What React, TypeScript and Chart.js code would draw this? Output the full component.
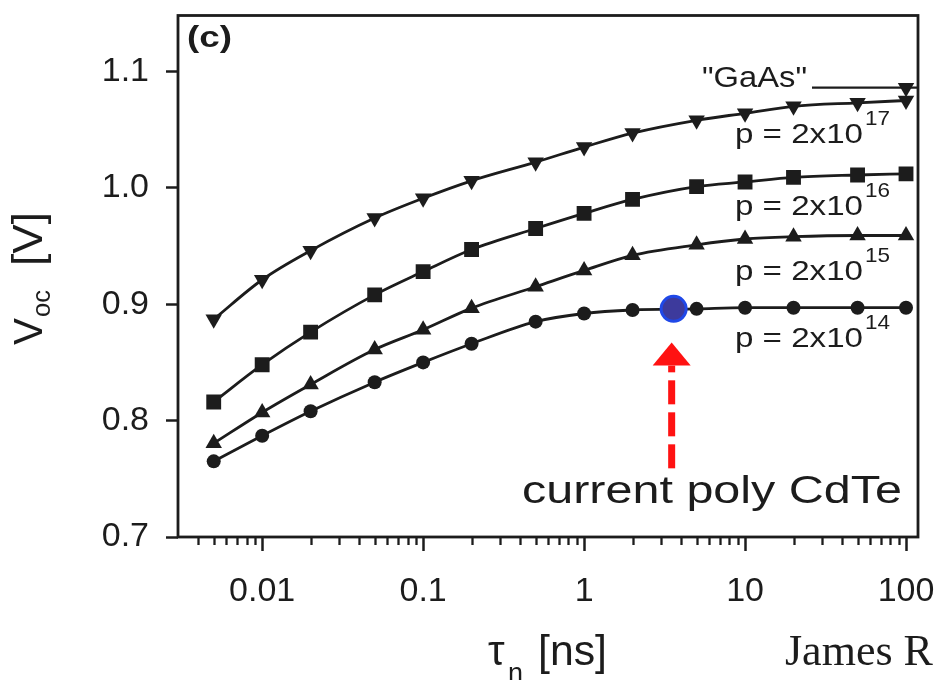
import React, { useEffect, useRef } from "react";
import { Chart, registerables } from "chart.js";

Chart.register(...registerables);

// ---------- data ----------
const TAU_NS = [0.005, 0.01, 0.02, 0.05, 0.1, 0.2, 0.5, 1, 2, 5, 10, 20, 50, 100];
const VOC_P2E17 = [0.887, 0.921, 0.946, 0.974, 0.991, 1.006, 1.022, 1.035, 1.047, 1.058, 1.064, 1.07, 1.073, 1.075];
const VOC_P2E16 = [0.816, 0.848, 0.876, 0.908, 0.928, 0.947, 0.965, 0.978, 0.99, 1.001, 1.005, 1.009, 1.011, 1.012];
const VOC_P2E15 = [0.7805, 0.807, 0.831, 0.861, 0.878, 0.8966, 0.915, 0.929, 0.942, 0.951, 0.956, 0.958, 0.959, 0.959];
const VOC_P2E14 = [0.765, 0.787, 0.808, 0.833, 0.85, 0.866, 0.885, 0.892, 0.895, 0.896, 0.897, 0.897, 0.897, 0.897];
const GAAS_TAU = [100];
const GAAS_VOC = [1.086];
const CDTE_TAU = [3.6];
const CDTE_VOC = [0.896];
const ARROW_TAU = 3.5;
const ARROW_VOC_FROM = 0.759;
const ARROW_VOC_TO = 0.867;

const SERIES_TEXT = ["p = 2x10", "p = 2x10", "p = 2x10", "p = 2x10"];
const SERIES_EXP = ["17", "16", "15", "14"];
const GAAS_TEXT = '"GaAs"';
const CDTE_TEXT = "current poly CdTe";
const PANEL_TEXT = "(c)";
const CREDIT_TEXT = "James R";

const X_TICKS = [0.01, 0.1, 1, 10, 100];
const X_TICK_LABELS = ["0.01", "0.1", "1", "10", "100"];
const Y_TICKS = [0.7, 0.8, 0.9, 1.0, 1.1];
const Y_TICK_LABELS = ["0.7", "0.8", "0.9", "1.0", "1.1"];
const X_MIN = 0.003;
const X_MAX = 118.7;
const Y_MIN = 0.7;
const Y_MAX = 1.148;

// ---------- styles ----------
const SANS = '"Liberation Sans", Arial, Helvetica, sans-serif';
const SERIF = '"Liberation Serif", "Times New Roman", serif';
const INK = "#1c1c1c";

function pts(xs: number[], ys: number[]) {
  return xs.map((x, i) => ({ x, y: ys[i] }));
}

function fitText(ctx: CanvasRenderingContext2D, text: string, x: number, y: number, font: string, width?: number) {
  ctx.save();
  ctx.font = font;
  ctx.textAlign = "left";
  ctx.textBaseline = "alphabetic";
  ctx.fillStyle = INK;
  const w = ctx.measureText(text).width;
  const s = width ? width / w : 1;
  ctx.translate(x, y);
  ctx.scale(s, 1);
  ctx.fillText(text, 0, 0);
  ctx.restore();
}

const decorPlugin = {
  id: "decor",
  beforeDraw(chart: any) {
    const ctx = chart.ctx;
    ctx.save();
    ctx.fillStyle = "#ffffff";
    ctx.fillRect(0, 0, chart.width, chart.height);
    ctx.restore();
  },
  afterDraw(chart: any) {
    const ctx: CanvasRenderingContext2D = chart.ctx;
    const { left, right, top, bottom } = chart.chartArea;
    const xs = chart.scales.x;
    const ys = chart.scales.y;

    // frame
    ctx.save();
    ctx.strokeStyle = INK;
    ctx.lineWidth = 2.8;
    ctx.strokeRect(left, top, right - left, bottom - top);

    // minor ticks on log axis
    ctx.lineWidth = 2.3;
    ctx.beginPath();
    for (let e = -3; e <= 2; e++) {
      for (let m = 2; m <= 9; m++) {
        const v = m * Math.pow(10, e);
        if (v <= X_MIN || v >= X_MAX) continue;
        const px = Math.round(xs.getPixelForValue(v)) + 0.5;
        ctx.moveTo(px, bottom);
        ctx.lineTo(px, bottom + 8);
      }
    }
    ctx.stroke();

    // GaAs leader line
    const gy = ys.getPixelForValue(GAAS_VOC[0]);
    ctx.lineWidth = 2.4;
    ctx.beginPath();
    ctx.moveTo(812, gy);
    ctx.lineTo(right, gy);
    ctx.stroke();
    ctx.restore();

    // red dashed arrow
    const ax = xs.getPixelForValue(ARROW_TAU);
    const ayb = ys.getPixelForValue(ARROW_VOC_FROM);
    const ayt = ys.getPixelForValue(ARROW_VOC_TO);
    const headBase = ayt + 23;
    ctx.save();
    ctx.fillStyle = "#ff1212";
    let yy = ayb;
    while (yy > headBase) {
      const y2 = Math.max(headBase, yy - 24);
      ctx.fillRect(ax - 3.5, y2, 7, yy - y2);
      yy = y2 - 8;
    }
    ctx.beginPath();
    ctx.moveTo(ax, ayt);
    ctx.lineTo(ax + 19, headBase);
    ctx.lineTo(ax - 19, headBase);
    ctx.closePath();
    ctx.fill();
    ctx.restore();

    // texts
    fitText(ctx, PANEL_TEXT, 187, 47, `bold 29px ${SANS}`, 45);
    fitText(ctx, GAAS_TEXT, 702, 87, `30px ${SANS}`, 105);
    const baselines = [143, 215, 280, 347];
    SERIES_TEXT.forEach((t, i) => {
      fitText(ctx, t, 735, baselines[i], `28px ${SANS}`, 128);
      fitText(ctx, SERIES_EXP[i], 865, baselines[i] - 18, `21px ${SANS}`, 25);
    });
    fitText(ctx, CDTE_TEXT, 522, 503, `38px ${SANS}`, 380);
    fitText(ctx, CREDIT_TEXT, 785, 665, `44px ${SERIF}`);

    // x title: tau_n [ns]
    fitText(ctx, "\u03c4", 488, 665, `42px ${SANS}`);
    fitText(ctx, "n", 508, 682, `28px ${SANS}`, 15);
    fitText(ctx, "[ns]", 538, 665, `42px ${SANS}`, 69);

    // y title: V_oc [V]
    ctx.save();
    ctx.translate(42, 345);
    ctx.rotate(-Math.PI / 2);
    const drawR = (t: string, x: number, y: number, font: string, w?: number) => {
      ctx.save();
      ctx.font = font;
      ctx.fillStyle = INK;
      ctx.textBaseline = "alphabetic";
      const mw = ctx.measureText(t).width;
      ctx.translate(x, y);
      ctx.scale(w ? w / mw : 1, 1);
      ctx.fillText(t, 0, 0);
      ctx.restore();
    };
    drawR("V", 0, 0, `40px ${SANS}`, 27);
    drawR("oc", 28, 8, `26px ${SANS}`, 27);
    drawR("[V]", 79, 0, `42px ${SANS}`, 54);
    ctx.restore();
  },
};

const lineStyle = {
  borderColor: INK,
  backgroundColor: INK,
  pointBackgroundColor: INK,
  pointBorderColor: INK,
  pointBorderWidth: 0,
  borderWidth: 2.8,
  cubicInterpolationMode: "monotone" as const,
  order: 1,
};

export default function App() {
  const ref = useRef<HTMLCanvasElement | null>(null);

  useEffect(() => {
    if (!ref.current) return;
    const chart = new Chart(ref.current, {
      type: "line",
      data: {
        datasets: [
          { ...lineStyle, label: "p=2e17", data: pts(TAU_NS, VOC_P2E17), pointStyle: "triangle", pointRotation: 180, pointRadius: 9.5 },
          { ...lineStyle, label: "p=2e16", data: pts(TAU_NS, VOC_P2E16), pointStyle: "rect", pointRadius: 10.5 },
          { ...lineStyle, label: "p=2e15", data: pts(TAU_NS, VOC_P2E15), pointStyle: "triangle", pointRadius: 9.5 },
          { ...lineStyle, label: "p=2e14", data: pts(TAU_NS, VOC_P2E14), pointStyle: "circle", pointRadius: 7 },
          { ...lineStyle, label: "GaAs", data: pts(GAAS_TAU, GAAS_VOC), showLine: false, pointStyle: "triangle", pointRotation: 180, pointRadius: 9.5 },
          {
            label: "CdTe",
            data: pts(CDTE_TAU, CDTE_VOC),
            showLine: false,
            pointStyle: "circle",
            pointRadius: 12.5,
            pointBackgroundColor: "#3d3a9c",
            pointBorderColor: "#1f48e8",
            pointBorderWidth: 3,
            order: 0,
          },
        ],
      },
      options: {
        responsive: false,
        animation: false,
        events: [],
        layout: { padding: { top: 8, right: 19, left: 0, bottom: 0 } },
        plugins: { legend: { display: false }, tooltip: { enabled: false }, title: { display: false } },
        scales: {
          x: {
            type: "logarithmic",
            min: X_MIN,
            max: X_MAX,
            afterBuildTicks: (s: any) => {
              s.ticks = X_TICKS.map((v) => ({ value: v, major: true }));
            },
            afterFit: (s: any) => {
              s.height = 680 - 537;
              s.paddingLeft = 0;
              s.paddingRight = 0;
              s.paddingTop = 0;
              s.paddingBottom = 0;
            },
            border: { display: false },
            grid: { drawOnChartArea: false, drawTicks: true, tickLength: 14, tickWidth: 2.5, tickColor: INK },
            ticks: {
              autoSkip: false,
              maxRotation: 0,
              padding: 20,
              color: INK,
              font: { family: SANS, size: 34 },
              callback: (v: any) => {
                const i = X_TICKS.findIndex((t) => Math.abs(t - Number(v)) / t < 1e-6);
                return i >= 0 ? X_TICK_LABELS[i] : "";
              },
            },
          },
          y: {
            type: "linear",
            min: Y_MIN,
            max: Y_MAX,
            afterBuildTicks: (s: any) => {
              s.ticks = Y_TICKS.map((v) => ({ value: v }));
            },
            afterFit: (s: any) => {
              s.width = 178;
              s.paddingLeft = 0;
              s.paddingRight = 0;
              s.paddingTop = 0;
              s.paddingBottom = 0;
            },
            border: { display: false },
            grid: { drawOnChartArea: false, drawTicks: true, tickLength: 12, tickWidth: 2.5, tickColor: INK },
            ticks: {
              padding: 17,
              color: INK,
              font: { family: SANS, size: 34 },
              callback: (v: any) => {
                const i = Y_TICKS.findIndex((t) => Math.abs(t - Number(v)) < 1e-6);
                return i >= 0 ? Y_TICK_LABELS[i] : "";
              },
            },
          },
        },
      },
      plugins: [decorPlugin],
    } as any);
    return () => chart.destroy();
  }, []);

  return (
    <div style={{ position: "fixed", left: 0, top: 0, width: 937, height: 680, background: "#fff" }}>
      <canvas ref={ref} width={937} height={680} style={{ display: "block", width: 937, height: 680 }} />
    </div>
  );
}
